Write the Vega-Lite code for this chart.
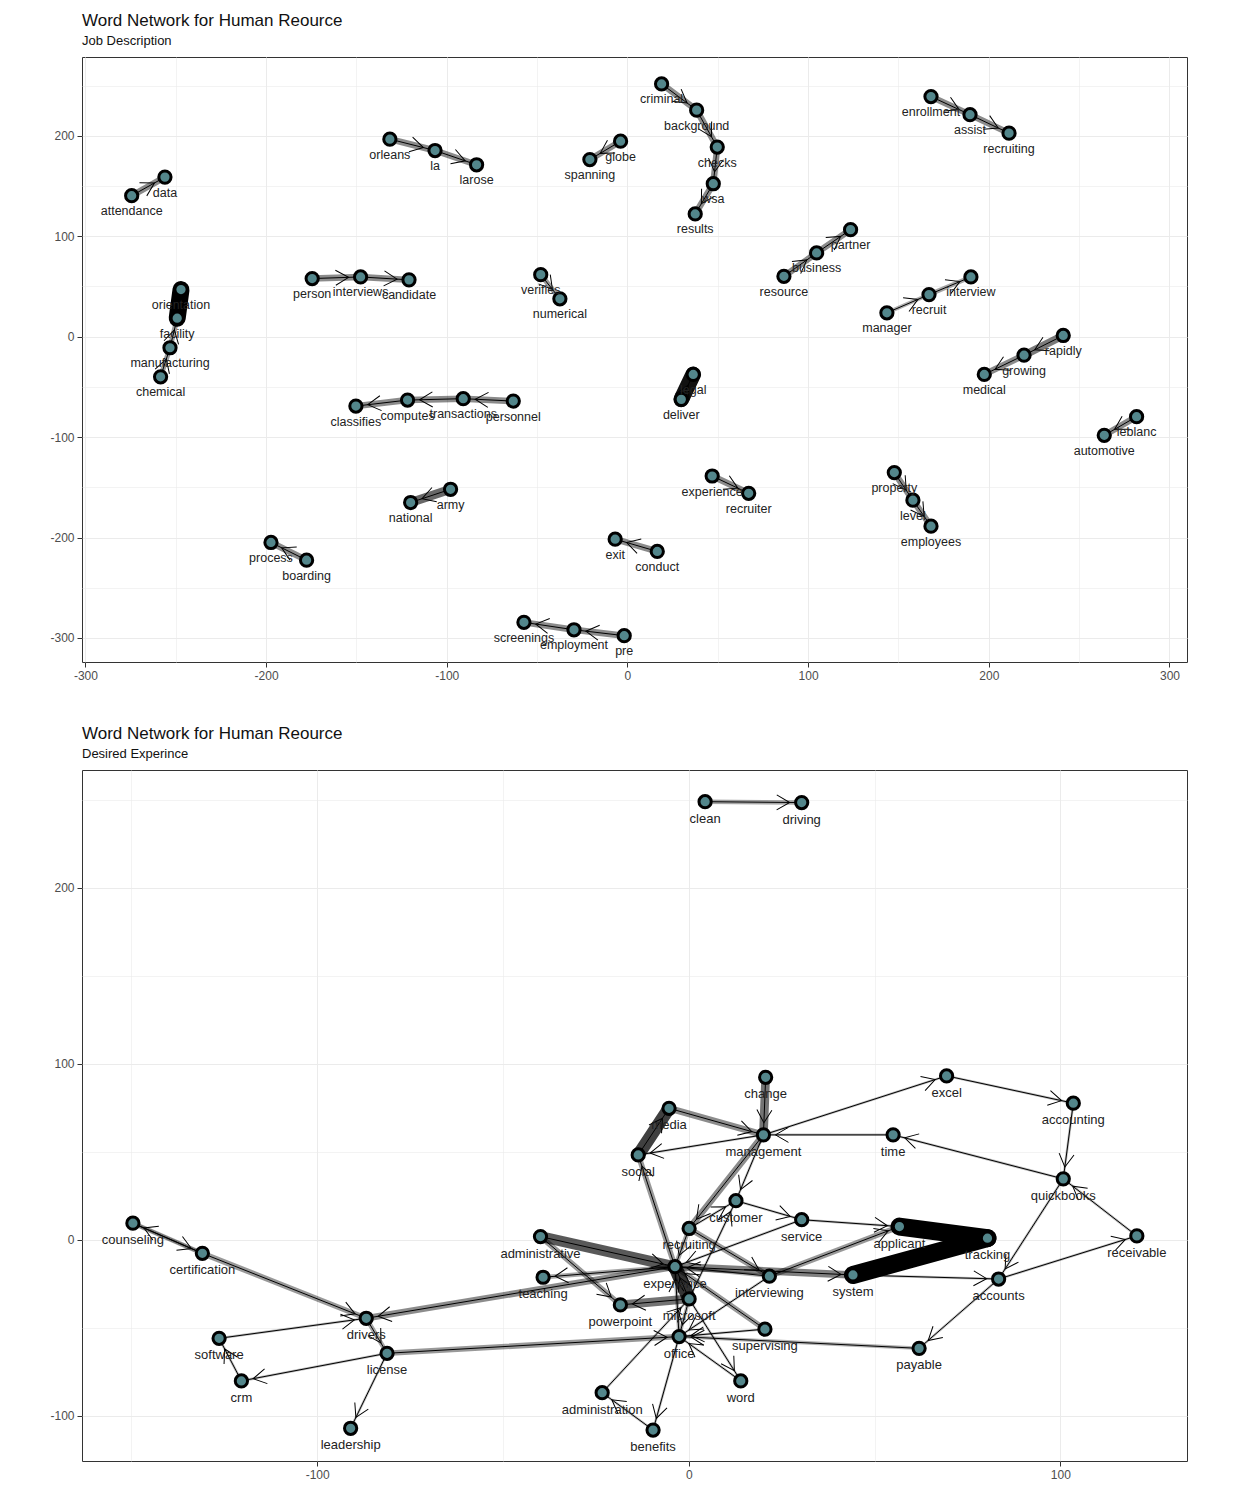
{
  "$schema": "https://vega.github.io/schema/vega-lite/v6.json",
  "padding": {"left": 49, "top": 11, "right": 10, "bottom": 5},
  "spacing": 42,
  "background": "white",
  "resolve": {"scale": {"strokeWidth": "independent", "opacity": "independent"}},
  "config": {
    "view": {"stroke": "#333333", "strokeWidth": 1},
    "font": "Liberation Sans",
    "title": {"anchor": "start", "frame": "group", "font": "Liberation Sans", "fontSize": 17, "fontWeight": "normal", "color": "#111111", "subtitleFont": "Liberation Sans", "subtitleFontSize": 13, "subtitleColor": "#111111", "subtitlePadding": 5, "offset": 8},
    "axis": {"labelFont": "Liberation Sans", "labelFontSize": 12, "labelColor": "#4D4D4D", "tickSize": 5, "tickWidth": 1, "labelPadding": 3, "gridColor": "#EBEBEB", "domain": false, "labelFlush": false, "labelOverlap": false}
  },
  "datasets": {
    "jdNodes": [
      {"word": "criminal", "x": 18.9, "y": 251.7},
      {"word": "background", "x": 38.3, "y": 225.6},
      {"word": "checks", "x": 49.7, "y": 188.8},
      {"word": "wsa", "x": 47.5, "y": 152.3},
      {"word": "results", "x": 37.5, "y": 122.2},
      {"word": "enrollment", "x": 168.0, "y": 239.1},
      {"word": "assist", "x": 189.6, "y": 221.1},
      {"word": "recruiting", "x": 211.2, "y": 202.7},
      {"word": "orleans", "x": -131.5, "y": 196.7},
      {"word": "la", "x": -106.5, "y": 185.4},
      {"word": "larose", "x": -83.5, "y": 171.2},
      {"word": "globe", "x": -3.8, "y": 194.7},
      {"word": "spanning", "x": -20.8, "y": 176.4},
      {"word": "data", "x": -256.0, "y": 158.9},
      {"word": "attendance", "x": -274.4, "y": 140.4},
      {"word": "partner", "x": 123.5, "y": 106.6},
      {"word": "business", "x": 104.7, "y": 83.4},
      {"word": "resource", "x": 86.6, "y": 60.1},
      {"word": "interview", "x": 190.1, "y": 59.5},
      {"word": "recruit", "x": 166.9, "y": 41.9},
      {"word": "manager", "x": 143.6, "y": 23.8},
      {"word": "person", "x": -174.5, "y": 57.9},
      {"word": "interviews", "x": -147.7, "y": 59.5},
      {"word": "candidate", "x": -120.9, "y": 56.6},
      {"word": "verifies", "x": -48.0, "y": 61.8},
      {"word": "numerical", "x": -37.4, "y": 37.7},
      {"word": "orientation", "x": -247.1, "y": 46.9},
      {"word": "facility", "x": -249.2, "y": 18.4},
      {"word": "manufacturing", "x": -253.2, "y": -11.0},
      {"word": "chemical", "x": -258.4, "y": -39.9},
      {"word": "rapidly", "x": 241.2, "y": 1.2},
      {"word": "growing", "x": 219.5, "y": -18.4},
      {"word": "medical", "x": 197.5, "y": -37.6},
      {"word": "legal", "x": 36.4, "y": -37.6},
      {"word": "deliver", "x": 29.8, "y": -62.4},
      {"word": "personnel", "x": -63.2, "y": -64.1},
      {"word": "transactions", "x": -90.9, "y": -61.7},
      {"word": "computes", "x": -121.7, "y": -63.1},
      {"word": "classifies", "x": -150.3, "y": -69.1},
      {"word": "leblanc", "x": 281.8, "y": -79.6},
      {"word": "automotive", "x": 263.9, "y": -98.2},
      {"word": "property", "x": 147.7, "y": -135.3},
      {"word": "level", "x": 158.0, "y": -162.8},
      {"word": "employees", "x": 168.0, "y": -188.7},
      {"word": "experience", "x": 46.9, "y": -138.7},
      {"word": "recruiter", "x": 67.1, "y": -155.9},
      {"word": "army", "x": -97.9, "y": -151.9},
      {"word": "national", "x": -120.0, "y": -165.1},
      {"word": "process", "x": -197.3, "y": -204.9},
      {"word": "boarding", "x": -177.6, "y": -222.5},
      {"word": "exit", "x": -6.8, "y": -201.6},
      {"word": "conduct", "x": 16.5, "y": -213.8},
      {"word": "screenings", "x": -57.3, "y": -284.4},
      {"word": "employment", "x": -29.6, "y": -291.8},
      {"word": "pre", "x": -1.8, "y": -297.7}
    ],
    "jdEdges": [
      {"from": "criminal", "to": "background", "n": 4},
      {"from": "background", "to": "checks", "n": 4},
      {"from": "checks", "to": "wsa", "n": 4},
      {"from": "wsa", "to": "results", "n": 4},
      {"from": "enrollment", "to": "assist", "n": 4},
      {"from": "assist", "to": "recruiting", "n": 4},
      {"from": "orleans", "to": "la", "n": 4},
      {"from": "la", "to": "larose", "n": 4},
      {"from": "globe", "to": "spanning", "n": 4},
      {"from": "attendance", "to": "data", "n": 4},
      {"from": "resource", "to": "business", "n": 4},
      {"from": "business", "to": "partner", "n": 4},
      {"from": "manager", "to": "recruit", "n": 2},
      {"from": "recruit", "to": "interview", "n": 2.5},
      {"from": "person", "to": "interviews", "n": 4},
      {"from": "interviews", "to": "candidate", "n": 4},
      {"from": "verifies", "to": "numerical", "n": 3},
      {"from": "chemical", "to": "manufacturing", "n": 3},
      {"from": "manufacturing", "to": "facility", "n": 3},
      {"from": "facility", "to": "orientation", "n": 12},
      {"from": "rapidly", "to": "growing", "n": 5},
      {"from": "growing", "to": "medical", "n": 4},
      {"from": "deliver", "to": "legal", "n": 11},
      {"from": "personnel", "to": "transactions", "n": 4},
      {"from": "transactions", "to": "computes", "n": 4},
      {"from": "computes", "to": "classifies", "n": 4},
      {"from": "leblanc", "to": "automotive", "n": 4},
      {"from": "property", "to": "level", "n": 4},
      {"from": "level", "to": "employees", "n": 4},
      {"from": "experience", "to": "recruiter", "n": 4},
      {"from": "army", "to": "national", "n": 6},
      {"from": "boarding", "to": "process", "n": 4},
      {"from": "conduct", "to": "exit", "n": 4},
      {"from": "pre", "to": "employment", "n": 4},
      {"from": "employment", "to": "screenings", "n": 4}
    ],
    "deNodes": [
      {"word": "clean", "x": 4.4, "y": 249.0},
      {"word": "driving", "x": 30.4, "y": 248.5},
      {"word": "counseling", "x": -149.6, "y": 9.5},
      {"word": "certification", "x": -130.9, "y": -7.6},
      {"word": "drivers", "x": -86.8, "y": -44.5},
      {"word": "software", "x": -126.4, "y": -55.9},
      {"word": "license", "x": -81.2, "y": -64.4},
      {"word": "crm", "x": -120.4, "y": -80.1},
      {"word": "leadership", "x": -91.0, "y": -107.0},
      {"word": "administrative", "x": -39.9, "y": 1.9},
      {"word": "teaching", "x": -39.2, "y": -21.2},
      {"word": "powerpoint", "x": -18.4, "y": -36.9},
      {"word": "administration", "x": -23.3, "y": -86.8},
      {"word": "benefits", "x": -9.6, "y": -108.0},
      {"word": "experience", "x": -3.7, "y": -15.2},
      {"word": "microsoft", "x": 0.1, "y": -33.5},
      {"word": "office", "x": -2.6, "y": -54.9},
      {"word": "recruiting", "x": 0.1, "y": 6.5},
      {"word": "customer", "x": 12.7, "y": 22.3},
      {"word": "service", "x": 30.4, "y": 11.5},
      {"word": "interviewing", "x": 21.7, "y": -20.6},
      {"word": "supervising", "x": 20.5, "y": -50.7},
      {"word": "word", "x": 14.0, "y": -80.1},
      {"word": "change", "x": 20.7, "y": 92.4},
      {"word": "media", "x": -5.3, "y": 74.8},
      {"word": "management", "x": 20.1, "y": 59.7},
      {"word": "social", "x": -13.6, "y": 48.3},
      {"word": "time", "x": 55.0, "y": 59.7},
      {"word": "excel", "x": 69.4, "y": 93.2},
      {"word": "accounting", "x": 103.5, "y": 77.7},
      {"word": "quickbooks", "x": 100.8, "y": 34.7},
      {"word": "receivable", "x": 120.6, "y": 2.3},
      {"word": "accounts", "x": 83.4, "y": -22.2},
      {"word": "payable", "x": 62.0, "y": -61.6},
      {"word": "applicant", "x": 56.7, "y": 7.6},
      {"word": "tracking", "x": 80.4, "y": 1.0},
      {"word": "system", "x": 44.2, "y": -19.9}
    ],
    "deEdges": [
      {"from": "clean", "to": "driving", "n": 3},
      {"from": "counseling", "to": "certification", "n": 3},
      {"from": "certification", "to": "counseling", "n": 2},
      {"from": "certification", "to": "drivers", "n": 4},
      {"from": "software", "to": "drivers", "n": 1},
      {"from": "crm", "to": "software", "n": 1},
      {"from": "license", "to": "crm", "n": 1},
      {"from": "license", "to": "leadership", "n": 1},
      {"from": "drivers", "to": "license", "n": 3},
      {"from": "experience", "to": "drivers", "n": 5},
      {"from": "license", "to": "office", "n": 4},
      {"from": "administrative", "to": "experience", "n": 9},
      {"from": "administrative", "to": "powerpoint", "n": 4},
      {"from": "experience", "to": "teaching", "n": 3},
      {"from": "microsoft", "to": "powerpoint", "n": 7},
      {"from": "microsoft", "to": "experience", "n": 12},
      {"from": "microsoft", "to": "office", "n": 2},
      {"from": "microsoft", "to": "word", "n": 1},
      {"from": "office", "to": "benefits", "n": 1},
      {"from": "benefits", "to": "administration", "n": 1},
      {"from": "administration", "to": "microsoft", "n": 1},
      {"from": "supervising", "to": "experience", "n": 4},
      {"from": "payable", "to": "office", "n": 2},
      {"from": "accounts", "to": "payable", "n": 1},
      {"from": "accounts", "to": "receivable", "n": 1},
      {"from": "receivable", "to": "quickbooks", "n": 1},
      {"from": "quickbooks", "to": "accounts", "n": 1},
      {"from": "accounting", "to": "quickbooks", "n": 1},
      {"from": "excel", "to": "accounting", "n": 1},
      {"from": "management", "to": "excel", "n": 1},
      {"from": "quickbooks", "to": "time", "n": 1},
      {"from": "time", "to": "management", "n": 1},
      {"from": "change", "to": "management", "n": 7},
      {"from": "media", "to": "management", "n": 5},
      {"from": "social", "to": "media", "n": 11},
      {"from": "management", "to": "social", "n": 1},
      {"from": "experience", "to": "social", "n": 4},
      {"from": "management", "to": "recruiting", "n": 5},
      {"from": "management", "to": "customer", "n": 1},
      {"from": "customer", "to": "service", "n": 1},
      {"from": "service", "to": "applicant", "n": 1},
      {"from": "applicant", "to": "tracking", "n": 16},
      {"from": "tracking", "to": "system", "n": 16},
      {"from": "system", "to": "accounts", "n": 1},
      {"from": "experience", "to": "system", "n": 6},
      {"from": "interviewing", "to": "applicant", "n": 4},
      {"from": "recruiting", "to": "interviewing", "n": 4},
      {"from": "interviewing", "to": "experience", "n": 2},
      {"from": "service", "to": "experience", "n": 1},
      {"from": "recruiting", "to": "customer", "n": 1},
      {"from": "recruiting", "to": "experience", "n": 3},
      {"from": "supervising", "to": "office", "n": 1},
      {"from": "word", "to": "office", "n": 1},
      {"from": "interviewing", "to": "office", "n": 1},
      {"from": "microsoft", "to": "customer", "n": 1},
      {"from": "office", "to": "experience", "n": 2}
    ]
  },
  "vconcat": [
    {
      "width": 1105,
      "height": 605,
      "title": {"text": "Word Network for Human Reource", "subtitle": "Job Description"},
      "encoding": {
        "x": {"field": "x", "type": "quantitative", "title": null,
          "scale": {"domain": [-301.9, 309.7], "nice": false, "zero": false},
          "axis": {"values": [-300, -250, -200, -150, -100, -50, 0, 50, 100, 150, 200, 250, 300],
            "labelExpr": "datum.value % 100 === 0 ? '' + datum.value : ''",
            "tickColor": {"condition": {"test": "datum.value % 100 === 0", "value": "#333333"}, "value": "rgba(0,0,0,0)"},
            "gridWidth": {"condition": {"test": "datum.value % 100 === 0", "value": 1}, "value": 0.6}}},
        "y": {"field": "y", "type": "quantitative", "title": null,
          "scale": {"domain": [-323.9, 278.5], "nice": false, "zero": false},
          "axis": {"values": [-300, -250, -200, -150, -100, -50, 0, 50, 100, 150, 200, 250],
            "labelExpr": "datum.value % 100 === 0 ? '' + datum.value : ''",
            "tickColor": {"condition": {"test": "datum.value % 100 === 0", "value": "#333333"}, "value": "rgba(0,0,0,0)"},
            "gridWidth": {"condition": {"test": "datum.value % 100 === 0", "value": 1}, "value": 0.6}}}
      },
      "layer": [
        {
          "data": {"name": "jdEdges"},
          "transform": [
            {"lookup": "from", "from": {"data": {"name": "jdNodes"}, "key": "word", "fields": ["x", "y"]}, "as": ["x", "y"]},
            {"lookup": "to", "from": {"data": {"name": "jdNodes"}, "key": "word", "fields": ["x", "y"]}, "as": ["xe", "ye"]}
          ],
          "mark": {"type": "rule", "color": "black", "strokeCap": "round"},
          "encoding": {
            "x2": {"field": "xe"},
            "y2": {"field": "ye"},
            "strokeWidth": {"field": "n", "type": "quantitative", "scale": {"domain": [1, 12], "range": [2.5, 17]}, "legend": null},
            "opacity": {"field": "n", "type": "quantitative", "scale": {"domain": [1, 12], "range": [0.25, 1]}, "legend": null}
          }
        },
        {
          "data": {"name": "jdEdges"},
          "transform": [
            {"lookup": "from", "from": {"data": {"name": "jdNodes"}, "key": "word", "fields": ["x", "y"]}, "as": ["x", "y"]},
            {"lookup": "to", "from": {"data": {"name": "jdNodes"}, "key": "word", "fields": ["x", "y"]}, "as": ["xe", "ye"]}
          ],
          "mark": {"type": "rule", "color": "black", "strokeWidth": 1},
          "encoding": {"x2": {"field": "xe"}, "y2": {"field": "ye"}}
        },
        {
          "data": {"name": "jdEdges"},
          "transform": [
            {"lookup": "to", "from": {"data": {"name": "jdNodes"}, "key": "word", "fields": ["x", "y"]}, "as": ["x", "y"]},
            {"lookup": "from", "from": {"data": {"name": "jdNodes"}, "key": "word", "fields": ["x", "y"]}, "as": ["xs", "ys"]},
            {"calculate": "atan2(-(datum.y - datum.ys) * 1.006, (datum.x - datum.xs) * 1.8067) * 180 / PI", "as": "angle"}
          ],
          "mark": {"type": "point", "shape": "M-25,-7.5L-12,0L-25,7.5", "size": 4, "filled": false, "stroke": "black", "strokeWidth": 1, "opacity": 1},
          "encoding": {"angle": {"field": "angle", "type": "quantitative", "scale": null}}
        },
        {
          "data": {"name": "jdNodes"},
          "mark": {"type": "point", "shape": "circle", "filled": true, "fill": "#53868B", "stroke": "black", "strokeWidth": 3, "size": 150, "opacity": 1}
        },
        {
          "data": {"name": "jdNodes"},
          "mark": {"type": "text", "dy": 15.5, "fontSize": 12.5, "font": "Liberation Sans", "color": "#222222", "baseline": "middle", "align": "center"},
          "encoding": {"text": {"field": "word"}}
        }
      ]
    },
    {
      "width": 1105,
      "height": 691,
      "title": {"text": "Word Network for Human Reource", "subtitle": "Desired Experince"},
      "encoding": {
        "x": {"field": "x", "type": "quantitative", "title": null,
          "scale": {"domain": [-163.3, 134.1], "nice": false, "zero": false},
          "axis": {"values": [-150, -100, -50, 0, 50, 100],
            "labelExpr": "datum.value % 100 === 0 ? '' + datum.value : ''",
            "tickColor": {"condition": {"test": "datum.value % 100 === 0", "value": "#333333"}, "value": "rgba(0,0,0,0)"},
            "gridWidth": {"condition": {"test": "datum.value % 100 === 0", "value": 1}, "value": 0.6}}},
        "y": {"field": "y", "type": "quantitative", "title": null,
          "scale": {"domain": [-125.6, 267.0], "nice": false, "zero": false},
          "axis": {"values": [-100, -50, 0, 50, 100, 150, 200, 250],
            "labelExpr": "datum.value % 100 === 0 ? '' + datum.value : ''",
            "tickColor": {"condition": {"test": "datum.value % 100 === 0", "value": "#333333"}, "value": "rgba(0,0,0,0)"},
            "gridWidth": {"condition": {"test": "datum.value % 100 === 0", "value": 1}, "value": 0.6}}}
      },
      "layer": [
        {
          "data": {"name": "deEdges"},
          "transform": [
            {"lookup": "from", "from": {"data": {"name": "deNodes"}, "key": "word", "fields": ["x", "y"]}, "as": ["x", "y"]},
            {"lookup": "to", "from": {"data": {"name": "deNodes"}, "key": "word", "fields": ["x", "y"]}, "as": ["xe", "ye"]}
          ],
          "mark": {"type": "rule", "color": "black", "strokeCap": "round"},
          "encoding": {
            "x2": {"field": "xe"},
            "y2": {"field": "ye"},
            "strokeWidth": {"field": "n", "type": "quantitative", "scale": {"domain": [1, 16], "range": [2.5, 18]}, "legend": null},
            "opacity": {"field": "n", "type": "quantitative", "scale": {"domain": [1, 16], "range": [0.25, 1]}, "legend": null}
          }
        },
        {
          "data": {"name": "deEdges"},
          "transform": [
            {"lookup": "from", "from": {"data": {"name": "deNodes"}, "key": "word", "fields": ["x", "y"]}, "as": ["x", "y"]},
            {"lookup": "to", "from": {"data": {"name": "deNodes"}, "key": "word", "fields": ["x", "y"]}, "as": ["xe", "ye"]}
          ],
          "mark": {"type": "rule", "color": "black", "strokeWidth": 1},
          "encoding": {"x2": {"field": "xe"}, "y2": {"field": "ye"}}
        },
        {
          "data": {"name": "deEdges"},
          "transform": [
            {"lookup": "to", "from": {"data": {"name": "deNodes"}, "key": "word", "fields": ["x", "y"]}, "as": ["x", "y"]},
            {"lookup": "from", "from": {"data": {"name": "deNodes"}, "key": "word", "fields": ["x", "y"]}, "as": ["xs", "ys"]},
            {"calculate": "atan2(-(datum.y - datum.ys) * 1.76, (datum.x - datum.xs) * 3.715) * 180 / PI", "as": "angle"}
          ],
          "mark": {"type": "point", "shape": "M-25,-7.5L-12,0L-25,7.5", "size": 4, "filled": false, "stroke": "black", "strokeWidth": 1, "opacity": 1},
          "encoding": {"angle": {"field": "angle", "type": "quantitative", "scale": null}}
        },
        {
          "data": {"name": "deNodes"},
          "mark": {"type": "point", "shape": "circle", "filled": true, "fill": "#53868B", "stroke": "black", "strokeWidth": 3, "size": 150, "opacity": 1}
        },
        {
          "data": {"name": "deNodes"},
          "mark": {"type": "text", "dy": 17, "fontSize": 13, "font": "Liberation Sans", "color": "#222222", "baseline": "middle", "align": "center"},
          "encoding": {"text": {"field": "word"}}
        }
      ]
    }
  ]
}
